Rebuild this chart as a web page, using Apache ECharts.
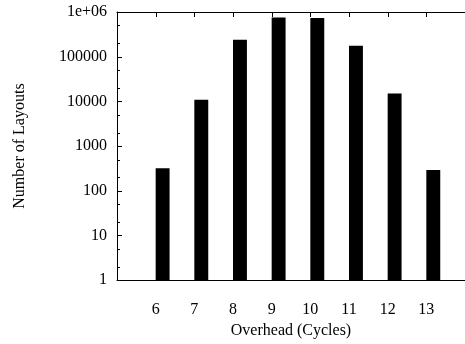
<!DOCTYPE html>
<html>
<head>
<meta charset="utf-8">
<script src="https://cdn.jsdelivr.net/npm/echarts@6/dist/echarts.min.js"></script>
<style>
  html, body { margin: 0; padding: 0; background: #fff; }
  #chart { width: 465px; height: 344px; }
</style>
</head>
<body>
<div id="chart"></div>
<script>
// Overhead in cycles and the number of layouts found for each
const overheadCycles = [6, 7, 8, 9, 10, 11, 12, 13];
const layoutCounts = [320, 10800, 240000, 750000, 730000, 175000, 15000, 290];

// Axis ticks
const xTickValues = [6, 7, 8, 9, 10, 11, 12, 13];
const yMajorTicks = [1, 10, 100, 1000, 10000, 100000, 1000000];
const yMinorTicks = [2, 5, 20, 50, 200, 500, 2000, 5000, 20000, 50000, 200000, 500000];

const X_MIN = 5, X_MAX = 14;
const Y_MIN = 1, Y_MAX = 1000000;

const FONT = 'Liberation Serif';
const FONT_SIZE = 16;
const BAR_WIDTH = 0.36; // in x-axis units, bar starts at its tick

// Tick marks drawn into the plot: [x, y, length, direction]
// direction 0: from the left border to the right, 1: from the top border downwards
const tickMarks = []
  .concat(yMajorTicks.map(function (v) { return [X_MIN, v, 5, 0]; }))
  .concat(yMinorTicks.map(function (v) { return [X_MIN, v, 3, 0]; }))
  .concat(xTickValues.map(function (v) { return [v, Y_MAX, 5, 1]; }));

const chart = echarts.init(document.getElementById('chart'), null, { renderer: 'canvas' });

const option = {
  animation: false,
  backgroundColor: '#fff',
  grid: { left: 117, top: 12, width: 353, height: 275, containLabel: false },
  xAxis: [
    {
      type: 'value',
      position: 'bottom',
      min: X_MIN,
      max: X_MAX,
      interval: 1,
      splitLine: { show: false },
      axisLine: { show: true, onZero: false, lineStyle: { color: '#000' } },
      axisTick: { show: false },
      axisLabel: {
        show: true,
        margin: 22,
        color: '#000',
        fontFamily: FONT,
        fontSize: FONT_SIZE,
        showMinLabel: false,
        showMaxLabel: false,
        formatter: function (v) { return xTickValues.indexOf(v) >= 0 ? String(v) : ''; }
      },
      name: 'Overhead (Cycles)',
      nameLocation: 'middle',
      nameGap: 36,
      nameTextStyle: { color: '#000', fontFamily: FONT, fontSize: FONT_SIZE }
    },
    {
      type: 'value',
      position: 'top',
      min: X_MIN,
      max: X_MAX,
      interval: 1,
      splitLine: { show: false },
      axisLine: { show: true, onZero: false, lineStyle: { color: '#000' } },
      axisTick: { show: false },
      axisLabel: { show: false }
    }
  ],
  yAxis: [
    {
      type: 'log',
      min: Y_MIN,
      max: Y_MAX,
      position: 'left',
      splitLine: { show: false },
      axisLine: { show: true, lineStyle: { color: '#000' } },
      axisTick: { show: false },
      axisLabel: {
        show: true,
        margin: 10,
        padding: [0, 0, 3, 0],
        color: '#000',
        fontFamily: FONT,
        fontSize: FONT_SIZE,
        formatter: function (v) {
          if (v >= 1000000) return '1e+06';
          return String(Math.round(v));
        }
      },
      name: 'Number of Layouts',
      nameLocation: 'middle',
      nameGap: 89,
      nameRotate: 90,
      nameTextStyle: { color: '#000', fontFamily: FONT, fontSize: FONT_SIZE }
    }
  ],
  series: [
    {
      type: 'custom',
      xAxisIndex: 0,
      yAxisIndex: 0,
      clip: true,
      data: overheadCycles.map(function (c, i) { return [c, layoutCounts[i]]; }),
      renderItem: function (params, api) {
        const x = api.value(0);
        const y = api.value(1);
        const top = api.coord([x, y]);
        const base = api.coord([x, Y_MIN]);
        const right = api.coord([x + BAR_WIDTH, Y_MIN]);
        return {
          type: 'rect',
          shape: { x: top[0], y: top[1], width: right[0] - top[0], height: base[1] - top[1] },
          style: { fill: '#000' }
        };
      }
    },
    {
      // tick marks on the left and top borders
      type: 'custom',
      xAxisIndex: 0,
      yAxisIndex: 0,
      clip: false,
      silent: true,
      z: 5,
      data: tickMarks,
      renderItem: function (params, api) {
        const p = api.coord([api.value(0), api.value(1)]);
        const len = api.value(2);
        const dir = api.value(3);
        let shape;
        if (dir === 0) {
          const y = Math.round(p[1]) + 0.5;
          const x = Math.round(p[0]);
          shape = { x1: x, y1: y, x2: x + len, y2: y };
        } else {
          const x = Math.round(p[0]) + 0.5;
          const y = Math.round(p[1]);
          shape = { x1: x, y1: y, x2: x, y2: y + len };
        }
        return {
          type: 'line',
          shape: shape,
          style: { stroke: '#000', lineWidth: 1 }
        };
      }
    }
  ]
};

chart.setOption(option);
</script>
</body>
</html>
